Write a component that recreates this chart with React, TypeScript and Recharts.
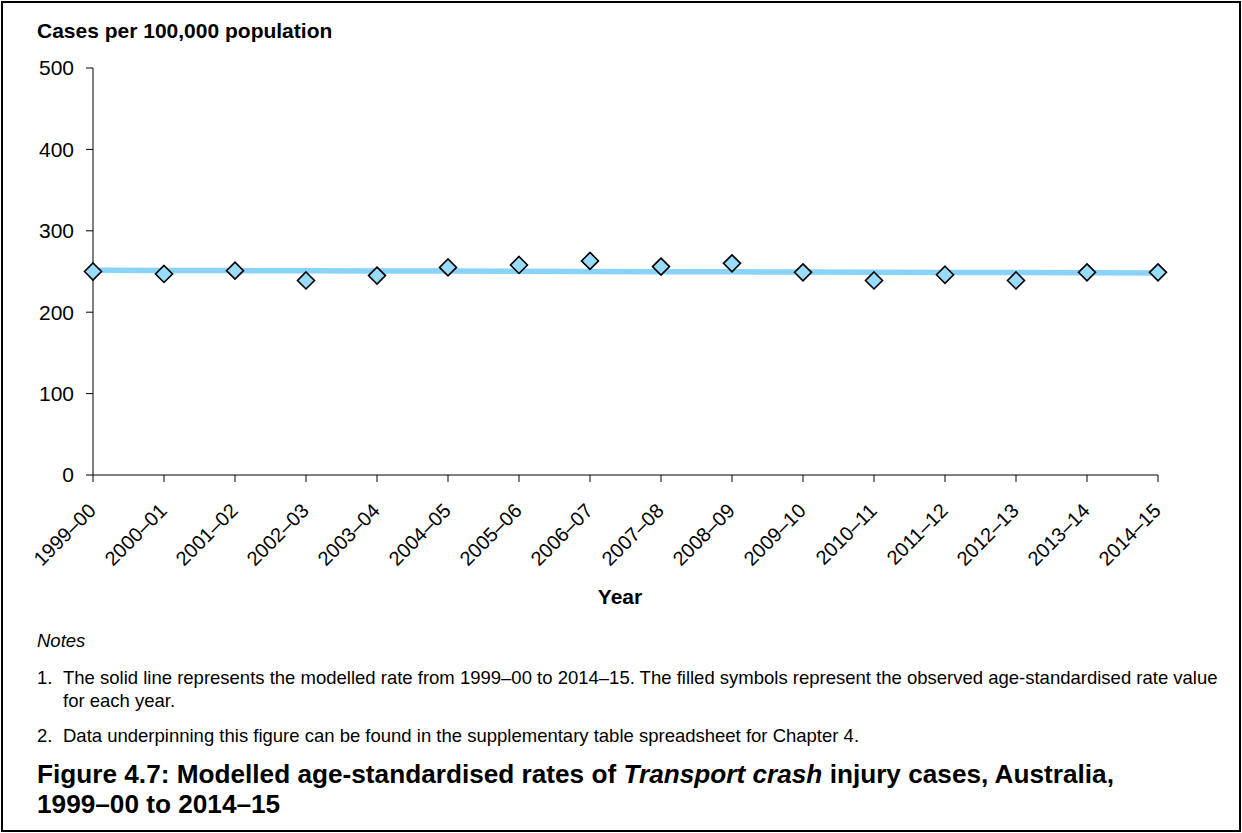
import { LineChart, Line, XAxis, YAxis } from 'recharts'

// financial years on the x axis
const years = [
  '1999–00', '2000–01', '2001–02', '2002–03', '2003–04', '2004–05', '2005–06', '2006–07',
  '2007–08', '2008–09', '2009–10', '2010–11', '2011–12', '2012–13', '2013–14', '2014–15',
]

// observed age-standardised rates (diamonds)
const observed = [250, 247, 251, 239, 245, 255, 258, 263, 256, 260, 249, 239, 246, 239, 249, 249]

// modelled rate (solid line)
const modelled = [
  251.5, 251.3, 251.1, 250.9, 250.7, 250.5, 250.2, 250.0,
  249.8, 249.6, 249.3, 249.1, 248.9, 248.7, 248.5, 248.3,
]

const yTicks = [0, 100, 200, 300, 400, 500]

const chartData = years.map((year, i) => ({
  year,
  observed: observed[i],
  modelled: modelled[i],
}))

const FONT = '"Liberation Sans", Arial, Helvetica, sans-serif'

const Diamond = (props: any) => {
  const { cx, cy, index } = props
  if (cx == null || cy == null) return <g key={index} />
  const r = 8.5
  return (
    <path
      key={index}
      d={`M${cx},${cy - r} L${cx + r},${cy} L${cx},${cy + r} L${cx - r},${cy} Z`}
      fill="#99dcfa"
      stroke="#000"
      strokeWidth={1.6}
    />
  )
}

const YearTick = (props: any) => {
  const { x, y, payload } = props
  return (
    <g transform={`translate(${x + 4},${y + 28})`}>
      <text
        x={0}
        y={0}
        textAnchor="end"
        transform="rotate(-45)"
        fontSize={20}
        fontFamily={FONT}
        fill="#000"
      >
        {payload.value}
      </text>
    </g>
  )
}

export default function App() {
  return (
    <div
      style={{
        position: 'absolute',
        left: 0,
        top: 0,
        width: 1242,
        height: 833,
        background: '#fff',
        fontFamily: FONT,
        color: '#000',
      }}
    >
      {/* outer frame */}
      <div
        style={{
          position: 'absolute',
          left: 1,
          top: 1,
          width: 1240,
          height: 831,
          border: '2px solid #000',
          boxSizing: 'border-box',
        }}
      />

      <div style={{ position: 'absolute', left: 37, top: 19, fontSize: 21, fontWeight: 'bold', lineHeight: '24px' }}>
        Cases per 100,000 population
      </div>

      <div style={{ position: 'absolute', left: 0, top: 0 }}>
        <LineChart
          width={1242}
          height={620}
          data={chartData}
          margin={{ top: 68, right: 84, left: 33, bottom: 70 }}
          style={{ overflow: 'visible' }}
        >
          <XAxis
            dataKey="year"
            height={75}
            interval={0}
            tick={<YearTick />}
            tickSize={7}
            axisLine={{ stroke: '#000', strokeWidth: 1 }}
            tickLine={{ stroke: '#000', strokeWidth: 1 }}
          />
          <YAxis
            width={60}
            domain={[0, 500]}
            ticks={yTicks}
            interval={0}
            tickSize={7}
            tickMargin={12}
            tick={{ fill: '#000', fontSize: 21, fontFamily: FONT }}
            axisLine={{ stroke: '#000', strokeWidth: 1 }}
            tickLine={{ stroke: '#000', strokeWidth: 1 }}
          />
          <Line
            dataKey="modelled"
            type="linear"
            stroke="#88d3f7"
            strokeWidth={5.5}
            dot={false}
            activeDot={false}
            isAnimationActive={false}
          />
          <Line
            dataKey="observed"
            type="linear"
            stroke="none"
            dot={<Diamond />}
            activeDot={false}
            isAnimationActive={false}
          />
        </LineChart>
      </div>

      <div
        style={{
          position: 'absolute',
          left: 0,
          width: 1240,
          top: 585,
          textAlign: 'center',
          fontSize: 21,
          fontWeight: 'bold',
          lineHeight: '24px',
        }}
      >
        Year
      </div>

      {/* notes */}
      <div style={{ position: 'absolute', left: 37, top: 629, fontSize: 18.5, lineHeight: '23px', fontStyle: 'italic' }}>
        Notes
      </div>
      <div style={{ position: 'absolute', left: 37, top: 666, fontSize: 18.5, lineHeight: '23px', width: 1196 }}>
        <span style={{ position: 'absolute', left: 0 }}>1.</span>
        <div style={{ marginLeft: 26 }}>
          The solid line represents the modelled rate from 1999–00 to 2014–15. The filled symbols represent the
          observed age-standardised rate value for each year.
        </div>
      </div>
      <div style={{ position: 'absolute', left: 37, top: 724, fontSize: 18.5, lineHeight: '23px' }}>
        <span style={{ position: 'absolute', left: 0 }}>2.</span>
        <div style={{ marginLeft: 26 }}>
          Data underpinning this figure can be found in the supplementary table spreadsheet for Chapter 4.
        </div>
      </div>

      {/* caption */}
      <div
        style={{
          position: 'absolute',
          left: 37,
          top: 759,
          width: 1180,
          fontSize: 26.2,
          fontWeight: 'bold',
          lineHeight: '30px',
        }}
      >
        Figure 4.7: Modelled age-standardised rates of <i>Transport crash</i> injury cases, Australia,
        <br />
        1999–00 to 2014–15
      </div>
    </div>
  )
}
